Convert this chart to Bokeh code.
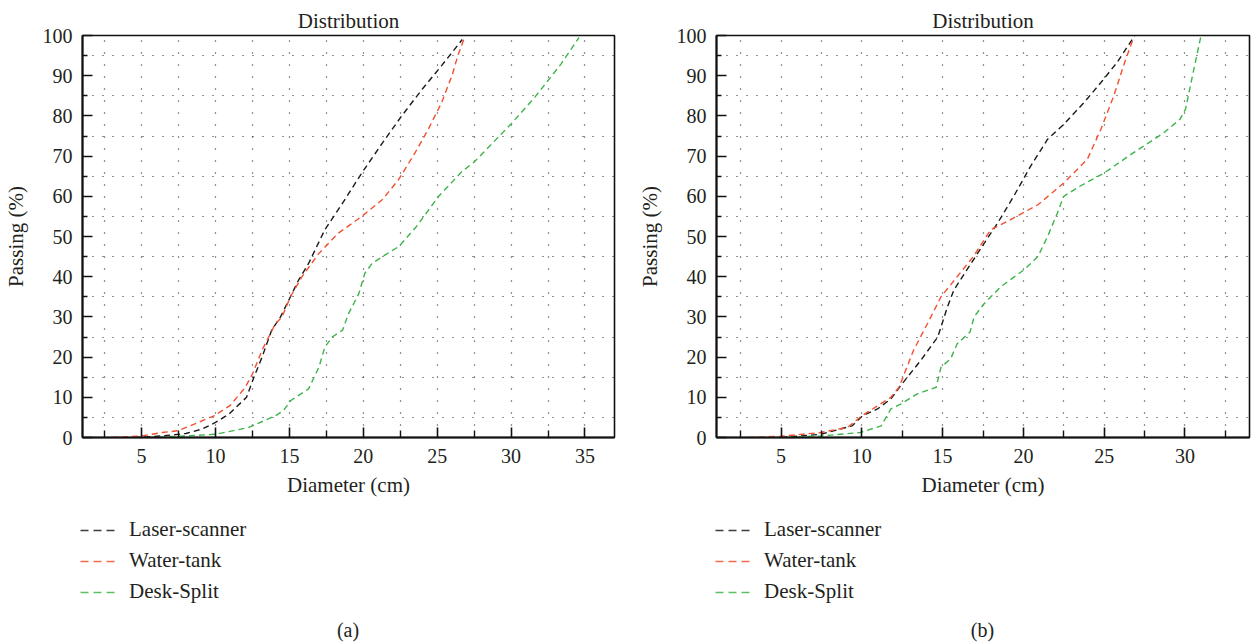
from bokeh.plotting import figure
from bokeh.layouts import row, column
from bokeh.models import Legend, LegendItem, Title, FixedTicker, Label
from bokeh.embed import file_html
from bokeh.resources import INLINE

FONT = "Liberation Serif"
TXT = "#231f20"

series_names = ["Laser-scanner", "Water-tank", "Desk-Split"]
series_colors = ["#1a1a1a", "#f2502f", "#3db54a"]

# ---- panel (a) ----
a_laser_x = [4.5, 6.4, 8.0, 9.1, 10.0, 10.9, 12.1, 12.6, 13.15, 13.8, 14.4, 15.07, 15.6, 16.3, 17.4, 18.6, 19.9, 21.3, 22.6, 24.0, 25.3, 26.7]
a_laser_y = [0.0, 0.4, 1.0, 2.1, 3.75, 5.8, 10.0, 15.0, 20.0, 26.7, 30.0, 35.0, 39.0, 43.3, 51.7, 58.3, 65.8, 73.3, 80.0, 86.7, 92.5, 99.0]
a_water_x = [3.0, 5.0, 6.4, 7.5, 9.9, 11.0, 12.0, 12.5, 13.15, 14.05, 14.5, 15.07, 15.85, 17.0, 18.3, 19.9, 21.3, 22.4, 23.5, 24.4, 25.3, 26.0, 26.4, 26.8]
a_water_y = [0.0, 0.4, 1.25, 1.7, 5.4, 8.0, 12.4, 15.8, 21.7, 28.3, 30.0, 35.0, 40.0, 45.8, 50.8, 55.0, 59.2, 64.2, 70.8, 76.7, 83.3, 90.0, 95.0, 99.0]
a_desk_x = [5.5, 7.5, 10.0, 12.25, 14.05, 14.6, 15.1, 16.3, 17.0, 17.4, 17.9, 18.6, 19.0, 19.7, 20.1, 20.6, 21.3, 22.4, 23.6, 25.1, 26.7, 27.5, 30.0, 31.6, 33.4, 34.6]
a_desk_y = [0.0, 0.3, 0.8, 2.5, 5.4, 6.7, 9.2, 12.1, 17.5, 22.5, 25.0, 26.7, 30.8, 35.8, 40.8, 43.3, 45.0, 47.5, 52.5, 60.0, 66.25, 68.5, 78.0, 84.6, 93.0, 99.5]

# ---- panel (b) ----
b_laser_x = [5.0, 7.46, 9.4, 10.04, 10.97, 11.8, 12.4, 13.65, 14.7, 15.3, 15.7, 16.5, 17.57, 18.4, 19.4, 20.45, 21.5, 22.5, 23.75, 24.8, 25.8, 26.9]
b_laser_y = [0.0, 0.8, 2.9, 5.4, 7.1, 9.6, 12.9, 19.2, 25.0, 32.5, 36.7, 41.7, 48.3, 53.3, 60.0, 67.5, 74.2, 77.9, 83.3, 88.3, 93.3, 100.0]
b_water_x = [3.0, 5.0, 7.46, 9.1, 10.0, 11.8, 12.3, 13.2, 14.06, 14.9, 15.9, 16.9, 17.98, 19.0, 20.9, 22.5, 23.96, 24.8, 25.6, 26.2, 26.8]
b_water_y = [0.0, 0.3, 1.25, 2.5, 5.4, 10.0, 12.5, 21.7, 28.3, 35.0, 40.0, 45.0, 51.7, 53.75, 57.9, 63.3, 69.2, 76.7, 85.0, 92.5, 99.2]
b_desk_x = [5.4, 7.5, 9.9, 11.2, 11.8, 12.4, 13.4, 14.6, 14.9, 15.5, 15.9, 16.7, 16.95, 17.57, 18.6, 20.04, 20.9, 21.5, 22.1, 22.5, 23.5, 25.0, 26.8, 28.7, 29.7, 30.04, 30.56, 31.0]
b_desk_y = [0.0, 0.4, 1.25, 2.9, 7.1, 8.3, 10.8, 12.5, 17.5, 19.6, 23.3, 26.25, 30.0, 33.3, 37.5, 41.7, 45.0, 50.0, 55.8, 60.0, 62.5, 65.8, 70.8, 75.8, 79.2, 81.7, 91.7, 100.0]

y_ticks = [0, 10, 20, 30, 40, 50, 60, 70, 80, 90, 100]
a_x_ticks = [5, 10, 15, 20, 25, 30, 35]
b_x_ticks = [5, 10, 15, 20, 25, 30]

MAIN_H = 505
LEG_H = 138


def make_panel(xs, ys, x_range, x_ticks, width, bl, br):
    p = figure(width=width, height=MAIN_H, x_range=x_range, y_range=(0, 100),
               output_backend="svg", toolbar_location=None,
               min_border_left=bl, min_border_right=br,
               min_border_top=35, min_border_bottom=MAIN_H - 35 - 402)
    p.title = Title(text="Distribution", align="center", text_font=FONT,
                    text_font_size="21px", text_font_style="normal",
                    text_color=TXT, standoff=2, vertical_align="top")
    p.background_fill_color = "white"
    p.border_fill_color = "white"
    p.outline_line_color = "#111111"
    p.outline_line_width = 1.6

    p.xaxis.ticker = FixedTicker(ticks=x_ticks,
                                 minor_ticks=[t - 2.5 for t in x_ticks] + [x_ticks[-1] + 2.5])
    p.yaxis.ticker = FixedTicker(ticks=y_ticks, minor_ticks=[t + 5 for t in y_ticks[:-1]])

    for ax in (p.xaxis[0], p.yaxis[0]):
        ax.axis_line_color = "#111111"
        ax.axis_line_width = 2
        ax.major_tick_line_color = "#111111"
        ax.major_tick_line_width = 1.6
        ax.minor_tick_line_color = "#111111"
        ax.minor_tick_line_width = 1.4
        ax.major_tick_in = 10
        ax.major_tick_out = 0
        ax.minor_tick_out = 0
        ax.major_label_text_font = FONT
        ax.major_label_text_font_size = "20px"
        ax.major_label_text_color = TXT
        ax.axis_label_text_font = FONT
        ax.axis_label_text_font_size = "21px"
        ax.axis_label_text_font_style = "normal"
        ax.axis_label_text_color = TXT
    p.xaxis.minor_tick_in = 7
    p.yaxis.minor_tick_in = 5
    p.xaxis.axis_label = "Diameter (cm)"
    p.yaxis.axis_label = "Passing (%)"
    p.xaxis.major_label_standoff = 11
    p.yaxis.major_label_standoff = 10
    p.xaxis.axis_label_standoff = 7
    p.yaxis.axis_label_standoff = 12

    p.xgrid.grid_line_color = "#222222"
    p.xgrid.grid_line_dash = "1 11"
    p.xgrid.grid_line_width = 1.2
    p.xgrid.minor_grid_line_color = "#222222"
    p.xgrid.minor_grid_line_dash = "1 11"
    p.xgrid.minor_grid_line_width = 1.2
    p.ygrid.grid_line_color = None
    p.ygrid.minor_grid_line_color = "#222222"
    p.ygrid.minor_grid_line_dash = "1 9"
    p.ygrid.minor_grid_line_width = 1.2

    for color, x, y in zip(series_colors, xs, ys):
        p.line(x, y, line_color=color, line_width=1.4, line_dash="6 4")
    return p


def make_legend(width, leg_x, cap_x, caption):
    q = figure(width=width, height=LEG_H, x_range=(0, 1), y_range=(0, 1),
               output_backend="svg", toolbar_location=None,
               x_axis_location=None, y_axis_location=None,
               min_border_left=0, min_border_right=0, min_border_top=0,
               min_border_bottom=0)
    q.outline_line_color = None
    q.grid.visible = False
    items = []
    for name, color in zip(series_names, series_colors):
        # single-point line: draws nothing in the frame, only serves the legend swatch
        r = q.line([2], [2], line_color=color, line_width=1.6, line_dash="8 5",
                   line_alpha=0.85)
        items.append(LegendItem(label=name, renderers=[r]))
    legend = Legend(items=items, location=(leg_x, 39), orientation="vertical",
                    margin=0, padding=0, spacing=6, glyph_width=36, glyph_height=22,
                    label_height=22, label_standoff=13,
                    label_text_font=FONT, label_text_font_size="21px",
                    label_text_color=TXT, border_line_color=None,
                    background_fill_alpha=0)
    q.add_layout(legend, "center")
    q.add_layout(Label(x=cap_x, y=14, x_units="screen", y_units="screen",
                       text=caption, text_align="center", text_baseline="middle",
                       text_font=FONT, text_font_size="20px", text_color=TXT))
    return q


W1, W2 = 634, 619
pa = make_panel([a_laser_x, a_water_x, a_desk_x], [a_laser_y, a_water_y, a_desk_y],
                (1, 37), a_x_ticks, W1, 81, 20)
pb = make_panel([b_laser_x, b_water_x, b_desk_x], [b_laser_y, b_water_y, b_desk_y],
                (1, 34), b_x_ticks, W2, 81, 4)
la = make_legend(W1, 80, 81 + 533 / 2, "(a)")
lb = make_legend(W2, 81, 81 + 534 / 2, "(b)")

layout = column(row(pa, pb), row(la, lb))
open("out.html", "w").write(file_html(layout, INLINE))
